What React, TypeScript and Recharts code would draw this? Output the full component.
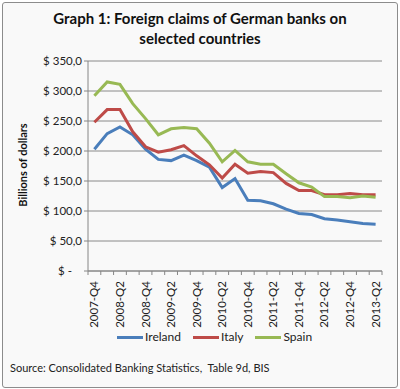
import { CartesianGrid, Line, LineChart, XAxis, YAxis } from "recharts";

const quarters = [
  "2007-Q4",
  "2008-Q1", "2008-Q2", "2008-Q3", "2008-Q4",
  "2009-Q1", "2009-Q2", "2009-Q3", "2009-Q4",
  "2010-Q1", "2010-Q2", "2010-Q3", "2010-Q4",
  "2011-Q1", "2011-Q2", "2011-Q3", "2011-Q4",
  "2012-Q1", "2012-Q2", "2012-Q3", "2012-Q4",
  "2013-Q1", "2013-Q2",
];

const ireland = [
  203, 229, 240, 227, 203, 186, 184, 193, 184, 173, 139, 154,
  118, 117, 112, 103, 96, 94, 87, 85, 82, 79, 78,
];

const italy = [
  248, 269, 269, 232, 207, 198, 202, 209, 192, 177, 155, 178,
  163, 166, 164, 146, 134, 134, 127, 127, 129, 127, 127,
];

const spain = [
  292, 315, 311, 279, 254, 227, 237, 239, 237, 213, 182, 201,
  182, 178, 178, 162, 147, 140, 124, 124, 122, 125, 123,
];

const yTicks = [0, 50, 100, 150, 200, 250, 300, 350];

const series = [
  { key: "ireland", name: "Ireland", color: "#4a7ebb" },
  { key: "italy", name: "Italy", color: "#be4b48" },
  { key: "spain", name: "Spain", color: "#98b954" },
];

const data = quarters.map((q, i) => ({
  q,
  ireland: ireland[i],
  italy: italy[i],
  spain: spain[i],
}));

const FONT = "Lato, 'Open Sans', sans-serif";
const PLOT_W = 294;
const STEP = PLOT_W / quarters.length;

const YTick = ({ x, y, payload }: any) => {
  const v = payload.value;
  const label = v === 0 ? "$ -" : "$ " + v.toFixed(1).replace(".", ",");
  return (
    <text
      x={v === 0 ? x - 10 : x}
      y={y}
      dy={4}
      textAnchor="end"
      fontSize={11.5}
      fontFamily={FONT}
      fill="#222"
    >
      {label}
    </text>
  );
};

const XTick = ({ x, y, payload, index }: any) => {
  const isLast = index === quarters.length - 1;
  return (
    <g>
      <line x1={x - STEP / 2} x2={x - STEP / 2} y1={y - 8} y2={y - 4} stroke="#868686" />
      {isLast && (
        <line x1={x + STEP / 2} x2={x + STEP / 2} y1={y - 8} y2={y - 4} stroke="#868686" />
      )}
      {index % 2 === 0 && (
        <text
          x={0}
          y={0}
          transform={`translate(${x + 4},${y + 2}) rotate(-90)`}
          textAnchor="end"
          fontSize={11.5}
          fontFamily={FONT}
          fill="#222"
        >
          {payload.value}
        </text>
      )}
    </g>
  );
};

export default function App() {
  return (
    <div
      style={{
        position: "absolute",
        left: 0,
        top: 0,
        width: 400,
        height: 389,
        background: "#ffffff",
        fontFamily: FONT,
      }}
    >
      <div
        style={{
          position: "absolute",
          left: 2,
          top: 2,
          width: 394,
          height: 384,
          border: "1px solid #8c8c8c",
          borderRadius: 3,
          background: "#f9f9f9",
        }}
      />
      <div
        style={{
          position: "absolute",
          left: 0,
          top: 8,
          width: 400,
          textAlign: "center",
          fontWeight: "bold",
          fontSize: 15,
          lineHeight: "20px",
          color: "#111",
        }}
      >
        Graph 1: Foreign claims of German banks on
        <br />
        selected countries
      </div>
      <div
        style={{
          position: "absolute",
          left: 22,
          top: 165,
          transform: "translate(-50%, -50%) rotate(-90deg)",
          whiteSpace: "nowrap",
          fontWeight: "bold",
          fontSize: 11,
          color: "#111",
        }}
      >
        Billions of dollars
      </div>
      <div style={{ position: "absolute", left: 0, top: 0 }}>
        <LineChart
          width={400}
          height={389}
          data={data}
          margin={{ top: 61, right: 18, bottom: 68, left: 0 }}
        >
          <CartesianGrid vertical={false} stroke="#8a8a8a" />
          <XAxis
            dataKey="q"
            interval={0}
            height={50}
            tickLine={false}
            axisLine={{ stroke: "#868686" }}
            padding={{ left: STEP / 2, right: STEP / 2 }}
            tick={<XTick />}
          />
          <YAxis
            width={88}
            domain={[0, 350]}
            ticks={yTicks}
            axisLine={{ stroke: "#868686" }}
            tickLine={{ stroke: "#868686" }}
            tickSize={4}
            tick={<YTick />}
          />
          {series.map((s) => (
            <Line
              key={s.key}
              dataKey={s.key}
              name={s.name}
              stroke={s.color}
              strokeWidth={3}
              dot={false}
              isAnimationActive={false}
            />
          ))}
        </LineChart>
      </div>
      <div
        style={{
          position: "absolute",
          top: 329,
          left: 117,
          display: "flex",
          alignItems: "center",
          fontSize: 12,
          color: "#222",
          lineHeight: "16px",
        }}
      >
        {series.map((s) => (
          <div key={s.key} style={{ display: "flex", alignItems: "center", marginRight: 12 }}>
            <span style={{ display: "inline-block", width: 26, height: 3, background: s.color, marginRight: 2 }} />
            {s.name}
          </div>
        ))}
      </div>
      <div
        style={{
          position: "absolute",
          left: 10,
          top: 361,
          fontSize: 11,
          color: "#222",
          whiteSpace: "nowrap",
        }}
      >
        Source: Consolidated Banking Statistics, &nbsp;Table 9d, BIS
      </div>
    </div>
  );
}
